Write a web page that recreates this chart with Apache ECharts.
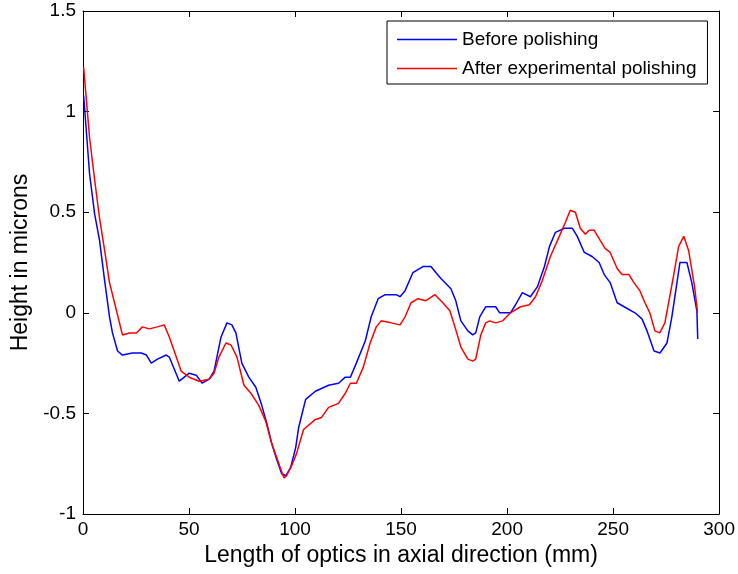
<!DOCTYPE html>
<html>
<head>
<meta charset="utf-8">
<script src="https://cdn.jsdelivr.net/npm/echarts@6/dist/echarts.min.js"></script>
<style>
html,body{margin:0;padding:0;background:#fff;}
#chart{width:738px;height:574px;}
</style>
</head>
<body>
<div id="chart"></div>
<script>
// Axis ticks
var xTicks = [0, 50, 100, 150, 200, 250, 300];
var yTicks = [-1, -0.5, 0, 0.5, 1, 1.5];

// Series names
var seriesNames = ["Before polishing", "After experimental polishing"];

// Before polishing (blue)
var beforeX = [0.3, 3.1, 5.5, 7.8, 10.2, 12.5, 13.9, 16.3, 18.6, 23.3, 27.5, 29.9, 32.2, 35.1, 39.3, 40.7, 45.4, 50.1, 53.4, 56.2, 59.5, 61.8, 65.1, 67.9, 70.2, 72.1, 74.9, 78.2, 81.5, 84.3, 86.7, 89.0, 91.4, 93.7, 95.6, 97.9, 100.3, 101.7, 105.0, 109.6, 115.8, 120.5, 123.7, 126.1, 128.9, 133.1, 135.9, 139.2, 142.5, 147.7, 149.5, 151.9, 155.6, 160.3, 164.1, 166.4, 168.8, 173.5, 175.8, 178.2, 181.5, 183.8, 185.2, 187.1, 189.9, 192.3, 194.6, 196.5, 201.6, 204.0, 207.2, 211.0, 214.3, 217.6, 220.0, 222.8, 227.0, 230.8, 233.1, 236.4, 240.1, 243.4, 245.8, 248.6, 251.9, 255.2, 260.3, 263.6, 266.0, 269.3, 272.1, 275.4, 277.7, 280.1, 281.5, 283.8, 284.8, 287.1, 289.5, 289.9];
var beforeY = [1.08, 0.69, 0.49, 0.36, 0.16, -0.02, -0.10, -0.19, -0.21, -0.20, -0.20, -0.21, -0.25, -0.23, -0.21, -0.22, -0.34, -0.30, -0.31, -0.35, -0.33, -0.29, -0.12, -0.05, -0.06, -0.10, -0.25, -0.32, -0.37, -0.46, -0.55, -0.65, -0.73, -0.80, -0.81, -0.77, -0.67, -0.57, -0.43, -0.39, -0.36, -0.35, -0.32, -0.32, -0.25, -0.14, -0.02, 0.07, 0.09, 0.09, 0.08, 0.11, 0.20, 0.23, 0.23, 0.20, 0.17, 0.12, 0.06, -0.04, -0.09, -0.11, -0.10, -0.02, 0.03, 0.03, 0.03, 0.00, 0.00, 0.04, 0.10, 0.08, 0.13, 0.23, 0.33, 0.40, 0.42, 0.42, 0.38, 0.30, 0.28, 0.25, 0.19, 0.15, 0.05, 0.03, 0.00, -0.03, -0.09, -0.19, -0.20, -0.15, -0.02, 0.15, 0.25, 0.25, 0.25, 0.15, 0.01, -0.13];

// After experimental polishing (red)
var afterX = [0.3, 3.1, 5.5, 7.8, 10.2, 12.5, 15.8, 18.6, 21.9, 25.2, 28.0, 31.3, 35.1, 38.3, 40.7, 44.0, 46.3, 50.1, 54.8, 59.5, 61.8, 64.1, 67.4, 69.8, 72.6, 75.9, 79.2, 82.9, 86.2, 89.0, 91.4, 94.7, 96.0, 98.4, 100.7, 104.0, 109.6, 112.5, 115.8, 120.5, 123.7, 126.1, 128.9, 132.2, 135.4, 138.3, 140.6, 145.3, 149.5, 151.9, 154.7, 158.0, 161.7, 166.0, 169.7, 173.0, 175.4, 178.2, 181.5, 183.8, 185.2, 187.6, 189.9, 191.8, 194.6, 197.9, 201.6, 206.3, 210.5, 213.4, 216.6, 220.4, 224.6, 227.5, 229.8, 232.2, 234.5, 236.9, 238.7, 241.1, 243.9, 246.2, 248.6, 251.9, 254.2, 257.5, 259.8, 262.6, 265.0, 267.3, 269.7, 272.0, 274.4, 276.7, 278.6, 280.9, 283.3, 285.6, 287.0, 288.4, 289.3, 289.8];
var afterY = [1.22, 0.87, 0.66, 0.47, 0.31, 0.15, 0.01, -0.11, -0.10, -0.10, -0.07, -0.08, -0.07, -0.06, -0.12, -0.22, -0.29, -0.32, -0.34, -0.33, -0.30, -0.22, -0.15, -0.16, -0.22, -0.36, -0.40, -0.46, -0.54, -0.65, -0.72, -0.82, -0.81, -0.76, -0.70, -0.58, -0.53, -0.52, -0.47, -0.45, -0.40, -0.35, -0.35, -0.27, -0.15, -0.07, -0.04, -0.05, -0.06, -0.02, 0.05, 0.07, 0.06, 0.09, 0.05, 0.01, -0.07, -0.17, -0.23, -0.24, -0.23, -0.11, -0.05, -0.04, -0.05, -0.04, 0.00, 0.03, 0.04, 0.08, 0.16, 0.28, 0.38, 0.45, 0.51, 0.50, 0.42, 0.39, 0.41, 0.41, 0.36, 0.32, 0.30, 0.22, 0.19, 0.19, 0.15, 0.11, 0.05, 0.00, -0.09, -0.10, -0.05, 0.08, 0.19, 0.33, 0.38, 0.31, 0.22, 0.13, 0.05, 0.00];

function pairs(xs, ys) { return xs.map(function (x, i) { return [x, ys[i]]; }); }

var FONT = '"Liberation Sans", Arial, sans-serif';
var chart = echarts.init(document.getElementById('chart'), null, { renderer: 'canvas' });

var axisLineStyle = { show: true, onZero: false, lineStyle: { color: '#000', width: 1 } };
var tickInside = { show: true, inside: true, length: 6, lineStyle: { color: '#000', width: 1 } };

chart.setOption({
  animation: false,
  backgroundColor: '#fff',
  grid: { left: 83, right: 15, top: 11, bottom: 60, containLabel: false },
  legend: {
    data: seriesNames,
    orient: 'vertical',
    left: 387,
    top: 21,
    padding: [9, 11, 6, 10],
    itemGap: 10,
    itemWidth: 60,
    itemHeight: 1.5,
    icon: 'rect',
    borderColor: '#000',
    borderWidth: 1,
    backgroundColor: '#fff',
    textStyle: { fontFamily: FONT, fontSize: 19, color: '#000', lineHeight: 19 }
  },
  xAxis: [{
    type: 'value', min: xTicks[0], max: xTicks[xTicks.length - 1], interval: 50,
    position: 'bottom',
    name: 'Length of optics in axial direction (mm)',
    nameLocation: 'middle', nameGap: 29,
    nameTextStyle: { fontFamily: FONT, fontSize: 23, color: '#000' },
    axisLine: axisLineStyle, axisTick: tickInside,
    axisLabel: { fontFamily: FONT, fontSize: 19, color: '#000', margin: 6 },
    splitLine: { show: false }
  }, {
    type: 'value', min: xTicks[0], max: xTicks[xTicks.length - 1], interval: 50,
    position: 'top',
    axisLine: axisLineStyle, axisTick: tickInside,
    axisLabel: { show: false }, splitLine: { show: false }
  }],
  yAxis: [{
    type: 'value', min: yTicks[0], max: yTicks[yTicks.length - 1], interval: 0.5,
    position: 'left',
    name: 'Height in microns',
    nameLocation: 'middle', nameGap: 49,
    nameTextStyle: { fontFamily: FONT, fontSize: 23, color: '#000' },
    axisLine: axisLineStyle, axisTick: tickInside,
    axisLabel: { fontFamily: FONT, fontSize: 19, color: '#000', margin: 7 },
    splitLine: { show: false }
  }, {
    type: 'value', min: yTicks[0], max: yTicks[yTicks.length - 1], interval: 0.5,
    position: 'right',
    axisLine: axisLineStyle, axisTick: tickInside,
    axisLabel: { show: false }, splitLine: { show: false }
  }],
  series: [{
    name: seriesNames[0], type: 'line', showSymbol: false, symbol: 'none',
    xAxisIndex: 0, yAxisIndex: 0,
    data: pairs(beforeX, beforeY),
    lineStyle: { color: '#0000ff', width: 1.5 }, itemStyle: { color: '#0000ff' }
  }, {
    name: seriesNames[1], type: 'line', showSymbol: false, symbol: 'none',
    xAxisIndex: 0, yAxisIndex: 0,
    data: pairs(afterX, afterY),
    lineStyle: { color: '#ff0000', width: 1.5 }, itemStyle: { color: '#ff0000' }
  }]
});
</script>
</body>
</html>
